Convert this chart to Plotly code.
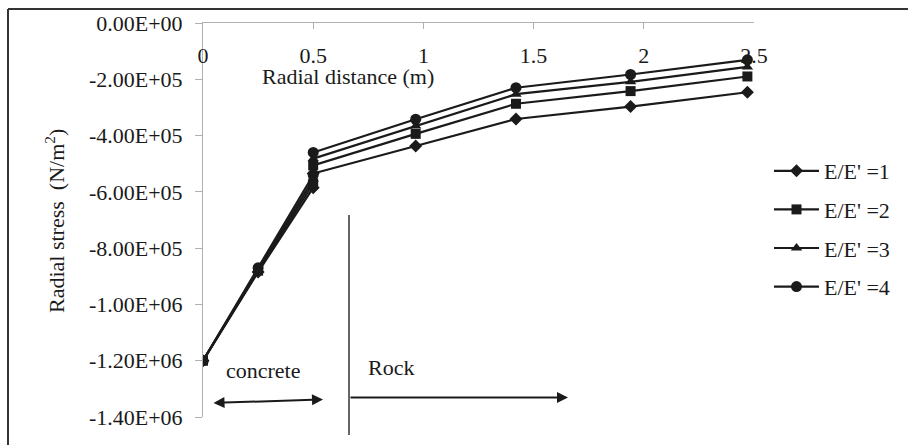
import plotly.graph_objects as go

# ---- data ----
radial_distance = [0, 0.25, 0.5, 0.5, 0.965, 1.42, 1.94, 2.47]
ratio_1 = [-1.20e6, -8.85e5, -5.85e5, -5.35e5, -4.37e5, -3.41e5, -2.97e5, -2.46e5]
ratio_2 = [-1.20e6, -8.80e5, -5.70e5, -5.06e5, -3.94e5, -2.87e5, -2.42e5, -1.90e5]
ratio_3 = [-1.20e6, -8.75e5, -5.55e5, -4.82e5, -3.66e5, -2.53e5, -2.09e5, -1.56e5]
ratio_4 = [-1.20e6, -8.70e5, -5.40e5, -4.60e5, -3.42e5, -2.30e5, -1.83e5, -1.31e5]
series_names = ["E/E' =1", "E/E' =2", "E/E' =3", "E/E' =4"]
series_values = [ratio_1, ratio_2, ratio_3, ratio_4]
symbols = ["diamond", "square", "triangle-up", "circle"]
marker_sizes = [10, 10, 10, 11]

y_tick_vals = [0, -2e5, -4e5, -6e5, -8e5, -1.0e6, -1.2e6, -1.4e6]
y_tick_text = ["0.00E+00", "-2.00E+05", "-4.00E+05", "-6.00E+05", "-8.00E+05",
               "-1.00E+06", "-1.20E+06", "-1.40E+06"]
x_tick_vals = [0, 0.5, 1, 1.5, 2, 2.5]
x_tick_text = ["0", "0.5", "1", "1.5", "2", "2.5"]

FONT = "Liberation Serif"
INK = "#1a1a1a"
W, H = 908, 445
L, R, T, B = 203, 154, 23, 28
PW, PH = W - L - R, H - T - B


def px(xp):
    return (xp - L) / PW


def py(yp):
    return (H - B - yp) / PH


fig = go.Figure()
for name, vals, sym, ms in zip(series_names, series_values, symbols, marker_sizes):
    fig.add_trace(go.Scatter(
        x=radial_distance, y=vals, name=name, mode="lines+markers",
        line=dict(color=INK, width=2.2),
        marker=dict(symbol=sym, size=ms, color=INK),
        legendgroup=name,
    ))

shapes = [
    # outer frame (top and left edges)
    dict(type="line", xref="paper", yref="paper", x0=px(8), x1=px(W + 5), y0=py(9), y1=py(9),
         line=dict(color="#333333", width=2)),
    dict(type="line", xref="paper", yref="paper", x0=px(8), x1=px(8), y0=py(9), y1=py(H + 5),
         line=dict(color="#333333", width=2)),
    # concrete / rock boundary line
    dict(type="line", xref="paper", yref="paper", x0=px(349), x1=px(349), y0=py(215), y1=py(435),
         line=dict(color="#333333", width=1.5)),
]


def label(text, xp, yp, **kw):
    return dict(text=text, xref="paper", yref="paper", x=px(xp), y=py(yp),
                xanchor="center", yanchor="middle", showarrow=False,
                font=dict(family=FONT, size=22, color=INK), **kw)


annotations = [
    label("Radial distance (m)", 348, 76),
    label("Radial stress  (N/m<sup>2</sup>)", 55, 221, textangle=-90),
    label("concrete", 263, 370),
    label("Rock", 391, 367),
    # concrete double arrow
    dict(text="", xref="paper", yref="paper", axref="pixel", ayref="pixel",
         x=px(323), y=py(399.5), ax=212 - 323, ay=403 - 399.5, showarrow=True,
         arrowhead=2, startarrowhead=2, arrowside="end+start", arrowsize=1.1,
         arrowwidth=2, arrowcolor=INK),
    # rock arrow
    dict(text="", xref="paper", yref="paper", axref="pixel", ayref="pixel",
         x=px(568), y=py(397.5), ax=349 - 568, ay=0, showarrow=True,
         arrowhead=2, arrowsize=1.1, arrowwidth=2, arrowcolor=INK),
]

fig.update_layout(
    width=W, height=H,
    margin=dict(l=L, r=R, t=T, b=B, pad=0),
    paper_bgcolor="white", plot_bgcolor="white",
    font=dict(family=FONT, size=22, color=INK),
    showlegend=True,
    legend=dict(x=px(769), y=py(229), xanchor="left", yanchor="middle",
                font=dict(family=FONT, size=22, color=INK),
                itemwidth=45, tracegroupgap=7, bgcolor="rgba(0,0,0,0)"),
    shapes=shapes,
    annotations=annotations,
    xaxis=dict(range=[0, 2.5], side="top", showline=True, linecolor="#b0b0b0", linewidth=1,
               ticks="inside", ticklen=6, tickcolor="#b0b0b0",
               tickvals=x_tick_vals, ticktext=x_tick_text,
               ticklabelposition="inside", ticklabeloverflow="allow", ticklabelstandoff=20,
               showgrid=False, zeroline=False,
               tickfont=dict(family=FONT, size=22, color=INK)),
    yaxis=dict(range=[-1.4e6, 0], showline=True, linecolor="#b0b0b0", linewidth=1,
               ticks="outside", ticklen=7, tickcolor="#b0b0b0",
               tickvals=y_tick_vals, ticktext=y_tick_text, ticklabelstandoff=8,
               showgrid=False, zeroline=False,
               tickfont=dict(family=FONT, size=22, color=INK)),
)

fig.write_html(
    "out.html",
    config={"displayModeBar": False},
    post_script="document.body.style.margin='0';document.body.style.padding='0';"
                "document.documentElement.style.overflow='hidden';",
)
